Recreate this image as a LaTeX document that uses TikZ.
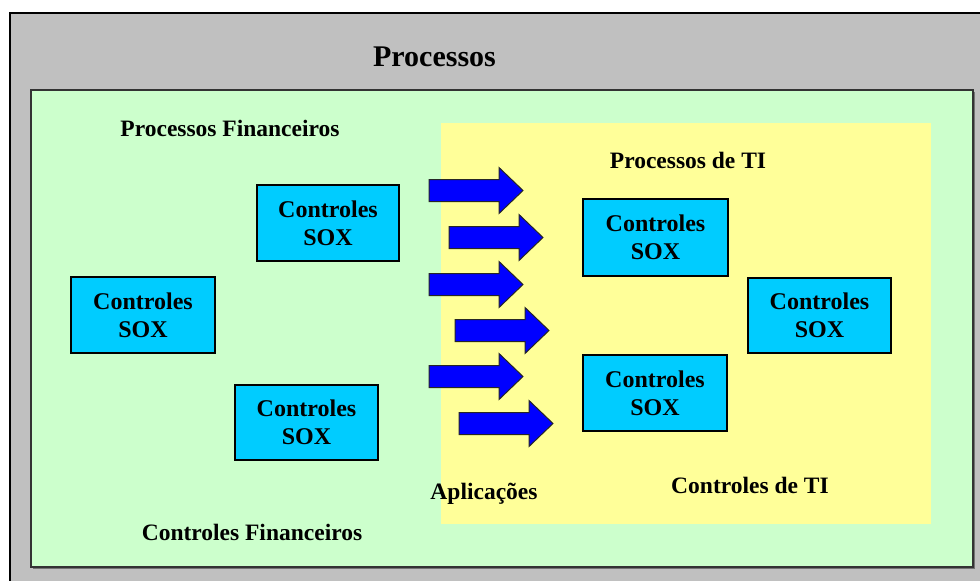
\documentclass[tikz,border=0pt]{standalone}
\usepackage{fontspec}
\setmainfont{Liberation Serif}
\definecolor{graybg}{HTML}{C0C0C0}
\definecolor{greenbg}{HTML}{CCFFCC}
\definecolor{yellowbg}{HTML}{FFFF99}
\definecolor{soxcyan}{HTML}{00CCFF}
\definecolor{arrowblue}{HTML}{0000FF}
\tikzset{
  soxbox/.style={draw=black, line width=1.2pt, fill=soxcyan,
    minimum width=143pt, minimum height=76pt, inner sep=0pt, align=center,
    font=\fontsize{24}{28}\selectfont\bfseries},
  areatext/.style={anchor=base, inner sep=0pt,
    font=\fontsize{23.5}{28}\selectfont\bfseries},
  blockarrow/.pic={
    \draw[fill=arrowblue, draw=black!85, line width=1pt, line join=miter]
      (0,-11) -- (70,-11) -- (70,-23) -- (94,0) -- (70,23) -- (70,11)
      -- (0,11) -- cycle;
  }
}
\begin{document}
\begin{tikzpicture}[x=1pt,y=-1pt]
  \useasboundingbox (0,0) rectangle (980,581);
  \clip (0,0) rectangle (980,581);
  % outer process frame
  \draw[fill=graybg, draw=black, line width=1.5pt] (10,13) rectangle (995,600);
  \node[anchor=base, inner sep=0pt, font=\fontsize{30}{34}\selectfont\bfseries]
    (processos) at (434.5,66) {Processos};
  % financial area
  \fill[black!55] (33,92) rectangle (975,569);
  \draw[fill=greenbg, draw=black!80, line width=1.5pt] (31,90) rectangle (973,567);
  % IT area
  \fill[yellowbg] (441,123) rectangle (931,524);
  % labels
  \node[areatext] (procfin) at (230,136) {Processos Financeiros};
  \node[areatext] (procti) at (688,168) {Processos de TI};
  \node[areatext] (aplic) at (484,499) {Aplicações};
  \node[areatext] (ctrlti) at (750,493) {Controles de TI};
  \node[areatext] (ctrlfin) at (252,540) {Controles Financeiros};
  % SOX controls
  \node[soxbox, minimum width=142pt] (soxa) at (328,223) {Controles\\SOX};
  \node[soxbox, minimum width=144pt] (soxb) at (143,315) {Controles\\SOX};
  \node[soxbox, minimum height=75pt] (soxc) at (306.5,422.5) {Controles\\SOX};
  \node[soxbox, minimum width=145pt, minimum height=77pt] (soxd) at (655.5,237.5) {Controles\\SOX};
  \node[soxbox, minimum height=75pt] (soxe) at (819.5,315.5) {Controles\\SOX};
  \node[soxbox, minimum width=144pt] (soxf) at (655,393) {Controles\\SOX};
  % application arrows
  \pic at (429,190.5) {blockarrow};
  \pic at (449,237.5) {blockarrow};
  \pic at (429,284.5) {blockarrow};
  \pic at (455,330.5) {blockarrow};
  \pic at (429,376.5) {blockarrow};
  \pic at (459,423.5) {blockarrow};
\end{tikzpicture}
\end{document}
